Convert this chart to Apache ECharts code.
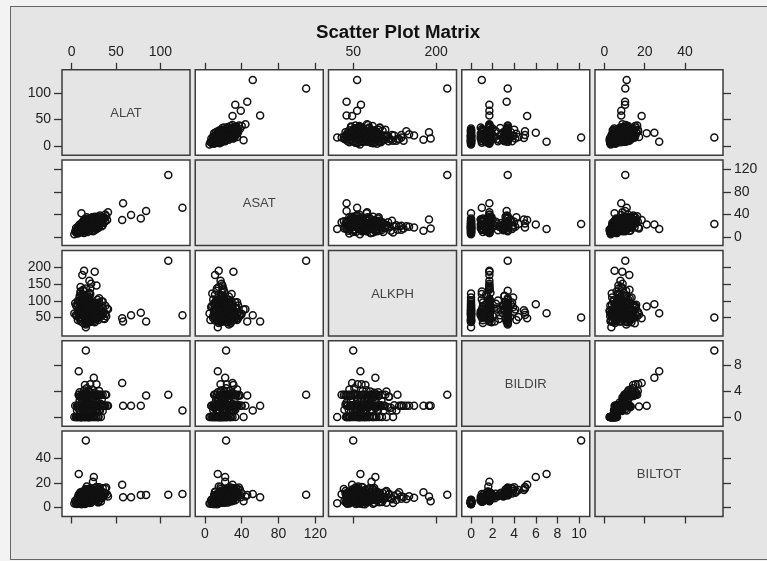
<!DOCTYPE html>
<html>
<head>
<meta charset="utf-8">
<script src="https://cdn.jsdelivr.net/npm/echarts@6/dist/echarts.min.js"></script>
<style>
html,body{margin:0;padding:0;background:#f3f3f3;}
#wrap{position:relative;width:767px;height:561px;overflow:hidden;}
#frame{position:absolute;left:10px;top:6px;width:770px;height:554px;background:#e5e5e5;border:1.5px solid #666;box-sizing:border-box;}
#chart{position:absolute;left:0;top:0;width:767px;height:561px;}
</style>
</head>
<body>
<div id="wrap"><div id="frame"></div><div id="chart"></div></div>
<script>
// ---- data (one observation per index) ----
const VARS = ['ALAT', 'ASAT', 'ALKPH', 'BILDIR', 'BILTOT'];

const ALAT = [
  12,8,18,22,6,15,27,10,33,14,20,9,25,17,11,30,13,7,19,24,16,11,21,5,28,
  14,22,9,31,18,12,26,16,7,35,20,13,24,10,29,
  15,21,11,36,17,8,27,19,13,23,32,16,10,28,14,38,20,6,25,12,18,30,9,22,15,34,17,24,13,26,
  19,12,28,15,33,9,23,17,
  16,24,11,30,19,8,35,14,21,27,13,39,18,25,10,29,16,22,12,32,
  20,14,26,17,31,9,23,19,
  15,28,21,
  109,125,16,84,78,67,57,58,41,14,12,26,28,16,8,25,20,
  5,9,30,36,18,24,40,3,12,27,21,15,33,7,19,26,11,37,14,23,31,17,6,29,20,
  13,35,10,25,16,28,8,22,34,12,19,26,4,32,15,21,38,11,24,17,30,9,27,14,20
];
const ASAT = [
  15,11,20,19,9,17,24,14,28,18,16,12,27,21,13,22,20,6,23,18,14,42,25,8,30,
  16,20,13,27,22,11,29,19,10,31,24,15,17,21,33,
  18,23,14,32,20,12,25,26,17,21,35,13,15,24,22,40,19,7,28,16,30,26,11,18,24,29,15,22,19,36,
  21,18,27,14,30,12,25,20,
  19,23,15,28,25,10,34,17,20,32,13,37,22,19,16,26,28,24,11,38,
  21,18,30,23,27,14,35,17,
  31,17,24,
  110,52,23,46,33,39,30,60,44,15,11,31,19,20,14,22,17,
  16,22,18,25,9,33,30,5,26,15,29,10,24,18,28,12,20,34,7,31,20,27,13,36,11,
  24,21,8,35,26,14,17,32,19,9,33,17,10,27,30,13,28,23,10,35,16,19,22,31,26
];
const ALKPH = [
  62,75,48,88,55,102,70,39,66,84,58,97,45,110,71,52,79,43,64,92,21,74,37,86,60,
  68,81,50,95,57,118,73,42,90,63,105,34,77,128,53,
  72,85,60,47,99,65,54,113,80,44,76,93,141,69,56,61,124,82,40,107,67,89,51,151,36,98,59,83,133,48,
  78,46,91,64,55,101,71,38,
  73,58,87,49,96,66,79,115,41,62,130,54,84,69,45,103,33,76,92,57,
  110,74,88,52,67,95,43,81,
  72,65,58,
  220,57,50,38,64,57,48,38,75,190,177,187,146,137,63,90,160,
  58,83,71,64,49,95,77,62,44,88,120,67,53,100,38,73,91,46,81,59,108,70,54,86,41,
  76,98,122,63,29,84,69,47,57,104,79,36,93,68,52,137,85,61,74,96,43,114,55,65,89
];
const BILDIR = [
  0,0,0,0,0,0,0,0,0,0,0,0,0,0,0,0,0,0,0,0,0,0,0,0,0,
  0.9,1.1,1.0,1.1,0.9,1.4,1.0,1.1,1.4,0.9,1.0,1.1,1.4,1.0,1.1,
  1.7,1.7,1.6,1.7,1.8,1.7,1.7,1.5,1.7,1.7,1.9,1.7,1.7,1.6,1.7,1.7,1.8,1.7,1.7,1.7,1.5,1.7,1.7,1.7,1.9,1.7,1.6,1.7,1.7,1.8,
  2.1,2.6,2.3,2.9,2.0,2.5,2.8,2.2,
  3.4,3.4,3.0,3.4,3.2,3.4,3.4,3.1,3.4,3.3,3.4,3.4,3.0,3.4,3.2,3.4,3.4,3.1,3.4,3.3,
  3.9,4.1,3.7,4.4,4.0,3.8,4.2,3.9,
  4.9,5.0,5.0,
  3.4,1.0,10.2,3.3,1.7,1.7,5.2,1.7,1.7,1.7,1.7,1.7,1.7,1.7,7.0,6.0,1.7,
  0,1.7,0,1.7,1.1,3.4,1.7,0,3.4,1.7,1.0,0,3.4,1.7,0,3.0,1.4,1.7,1.7,0.9,3.4,1.7,1.0,3.2,0,
  2.4,1.7,0,1.7,3.4,1.1,3.4,1.7,2.7,1.7,0,3.4,1.7,1.0,3.6,1.7,3.4,0,1.7,1.7,0,3.1,1.7,1.1,3.4
];
const BILTOT = [
  3.4,4.1,5.2,3.8,2.9,4.6,5.5,3.1,4.9,6.1,3.6,4.4,5.8,3.9,2.6,4.2,5.0,3.3,4.7,6.3,3.5,5.1,4.0,3.0,5.4,
  5.6,7.2,4.8,8.1,6.4,7.6,9.0,5.9,6.8,8.6,7.0,5.3,9.5,6.1,10.2,
  7.4,8.8,6.2,9.9,11.0,5.7,10.5,8.1,12.3,7.8,9.3,6.6,8.5,13.1,7.1,11.7,9.6,6.0,10.8,7.7,12.8,8.4,6.9,9.1,11.4,7.5,17.2,21.0,12.5,10.0,
  8.9,9.8,11.2,10.4,8.0,9.2,12.1,7.6,
  11.6,13.2,9.4,14.8,12.0,10.3,15.6,11.1,12.7,14.0,10.8,16.3,9.0,13.6,12.4,11.9,15.1,10.0,12.9,14.4,
  13.5,12.0,15.8,14.2,16.6,11.4,13.0,15.0,
  14.3,16.8,15.5,
  10.4,11.1,54.5,10.3,10.3,8.4,18.5,8.4,9.0,5.1,12.4,8.9,7.0,9.0,27.2,24.8,8.0,
  3.8,7.9,4.5,9.4,5.0,12.2,10.6,3.2,11.3,7.3,6.7,2.8,13.9,8.2,5.7,10.1,7.4,11.9,6.3,6.0,12.6,9.7,4.9,14.6,4.3,
  9.3,8.7,3.7,12.0,10.9,6.9,9.9,8.3,11.5,6.4,5.9,13.4,5.5,8.0,12.8,7.1,15.3,4.6,9.0,10.3,5.3,10.7,8.6,7.0,14.1
];

// tick values per variable
const X_TICKS = [[0,50,100],[0,40,80,120],[50,200],[0,2,4,6,8,10],[0,20,40]];
const Y_TICKS = [[0,50,100],[0,40,80,120],[50,100,150,200],[0,4,8],[0,20,40]];

// ---- layout / scales ----
const COLS = [ALAT, ASAT, ALKPH, BILDIR, BILTOT];
const X_RANGE = [[-10.9,133.5],[-10.5,128.6],[5.3,236.7],[-0.86,11.0],[-4.6,58.8]];
const Y_RANGE = [[-17.7,144.5],[-15.3,136.6],[-4.8,250.6],[-1.42,11.7],[-7.3,62.3]];
const CELL_W = 128, CELL_H = 85.5;
const LEFT0 = 62, STEP_X = 133.25, TOP0 = 69.8, STEP_Y = 90.3;
const FONT = "'Liberation Sans', Arial, Helvetica, sans-serif";

const n = Math.min(ALAT.length, ASAT.length, ALKPH.length, BILDIR.length, BILTOT.length);

const grids = [], xAxes = [], yAxes = [], series = [], graphics = [];
for (let i = 0; i < 5; i++) {
  for (let j = 0; j < 5; j++) {
    const g = i * 5 + j;
    const left = LEFT0 + j * STEP_X, top = TOP0 + i * STEP_Y;
    const diag = i === j;
    grids.push({
      left: left, top: top, width: CELL_W, height: CELL_H,
      show: true, backgroundColor: diag ? '#e5e5e5' : '#ffffff',
      borderColor: '#3c3c3c', borderWidth: 1.5, containLabel: false
    });
    const showXT = (i === 0 || i === 4);
    const showXL = (i === 0 && (j === 0 || j === 2 || j === 4)) || (i === 4 && (j === 1 || j === 3));
    const showYT = (j === 0 || j === 4);
    const showYL = (j === 0 && (i === 0 || i === 2 || i === 4)) || (j === 4 && (i === 1 || i === 3));
    xAxes.push({
      gridIndex: g, type: 'value', min: X_RANGE[j][0], max: X_RANGE[j][1],
      position: i === 0 ? 'top' : 'bottom',
      axisLine: { show: false, onZero: false },
      axisTick: { show: showXT, inside: false, length: 7, customValues: X_TICKS[j],
                  lineStyle: { color: '#333', width: 1.3 } },
      axisLabel: { show: showXL, customValues: X_TICKS[j], margin: 11,
                   fontSize: 14, color: '#222', fontFamily: FONT },
      splitLine: { show: false }
    });
    yAxes.push({
      gridIndex: g, type: 'value', min: Y_RANGE[i][0], max: Y_RANGE[i][1],
      position: j === 0 ? 'left' : 'right',
      axisLine: { show: false, onZero: false },
      axisTick: { show: showYT, inside: false, length: 8, customValues: Y_TICKS[i],
                  lineStyle: { color: '#333', width: 1.3 } },
      axisLabel: { show: showYL, customValues: Y_TICKS[i], margin: 11,
                   fontSize: 14, color: '#222', fontFamily: FONT },
      splitLine: { show: false }
    });
    if (diag) {
      graphics.push({
        type: 'text', x: left + CELL_W / 2, y: top + CELL_H / 2 + 1,
        style: { text: VARS[i], fill: '#444', font: "13px " + FONT,
                 textAlign: 'center', textVerticalAlign: 'middle' },
        z: 10
      });
    } else {
      const pts = [];
      for (let k = 0; k < n; k++) pts.push([COLS[j][k], COLS[i][k]]);
      series.push({
        type: 'scatter', xAxisIndex: g, yAxisIndex: g, data: pts,
        symbol: 'circle', symbolSize: 7,
        itemStyle: { color: 'rgba(255,255,255,0)', borderColor: '#111', borderWidth: 1.5, opacity: 1 },
        emphasis: { disabled: true }, silent: true, clip: true
      });
    }
  }
}

const chart = echarts.init(document.getElementById('chart'), null, { renderer: 'canvas' });
chart.setOption({
  animation: false,
  backgroundColor: 'transparent',
  title: {
    text: 'Scatter Plot Matrix', left: 393, top: 18, textAlign: 'center',
    textStyle: { fontSize: 18.7, fontWeight: 'bold', color: '#111', fontFamily: FONT }
  },
  grid: grids, xAxis: xAxes, yAxis: yAxes, series: series,
  graphic: graphics
});
</script>
</body>
</html>
